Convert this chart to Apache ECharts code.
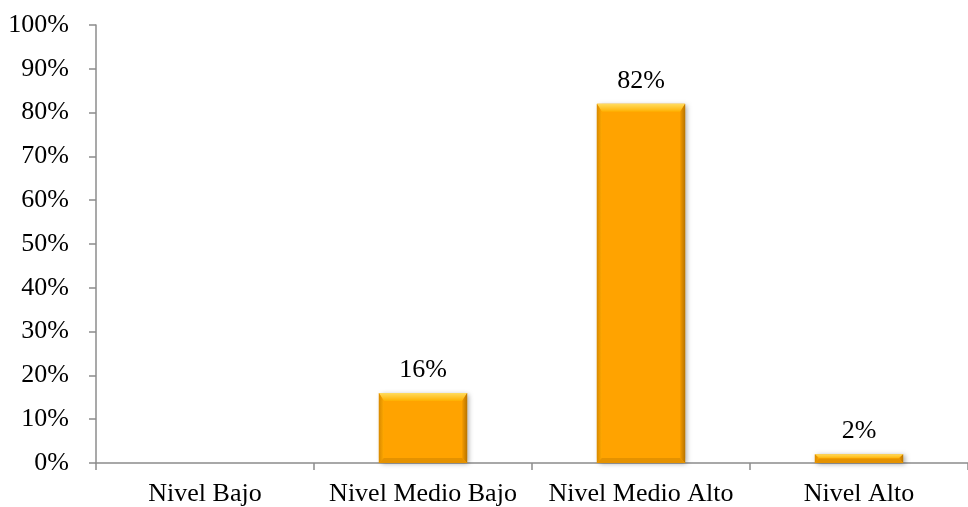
<!DOCTYPE html>
<html>
<head>
<meta charset="utf-8">
<script src="https://cdn.jsdelivr.net/npm/echarts@6/dist/echarts.min.js"></script>
<style>
  html, body { margin: 0; padding: 0; background: #fff; }
  #chart { width: 968px; height: 507px; }
</style>
</head>
<body>
<div id="chart"></div>
<script>
// Levels and the share of responses in each
var categories = ['Nivel Bajo', 'Nivel Medio Bajo', 'Nivel Medio Alto', 'Nivel Alto'];
var values = [0, 16, 82, 2];
var yTicks = [0, 10, 20, 30, 40, 50, 60, 70, 80, 90, 100];

var FONT = '"Liberation Serif", "Times New Roman", serif';
var FONT_SIZE = 26;

// Bevelled orange bar with its value label above
function renderBevelBar(params, api) {
  var idx = api.value(0);
  var val = api.value(1);
  if (!val) return null;
  var top = api.coord([idx, val]);
  var base = api.coord([idx, 0]);
  var w = api.size([1, 0])[0] * 0.405;
  var x0 = top[0] - w / 2, x1 = top[0] + w / 2;
  var y0 = top[1], y1 = base[1];
  var h = y1 - y0;
  var b = Math.min(8, h / 2);
  var s = Math.min(5, h / 2);
  return {
    type: 'group',
    children: [
      { type: 'rect', shape: { x: x0, y: y0, width: w, height: h },
        style: { fill: '#FFA300', shadowBlur: 5, shadowOffsetX: 2, shadowOffsetY: 1, shadowColor: 'rgba(0,0,0,0.35)' } },
      // top bevel
      { type: 'polygon', shape: { points: [[x0, y0], [x1, y0], [x1 - s, y0 + b], [x0 + s, y0 + b]] },
        style: { fill: new echarts.graphic.LinearGradient(0, 0, 0, 1, [
          { offset: 0, color: '#FFDC60' }, { offset: 1, color: '#FFB000' }]) } },
      // left bevel
      { type: 'polygon', shape: { points: [[x0, y0], [x0 + s, y0 + b], [x0 + s, y1 - s], [x0, y1]] },
        style: { fill: new echarts.graphic.LinearGradient(0, 0, 1, 0, [
          { offset: 0, color: '#D88A00' }, { offset: 1, color: '#FFA800' }]) } },
      // right bevel
      { type: 'polygon', shape: { points: [[x1, y0], [x1, y1], [x1 - s, y1 - s], [x1 - s, y0 + b]] },
        style: { fill: new echarts.graphic.LinearGradient(0, 0, 1, 0, [
          { offset: 0, color: '#F39A00' }, { offset: 1, color: '#B87400' }]) } },
      // bottom bevel
      { type: 'polygon', shape: { points: [[x0, y1], [x0 + s, y1 - s], [x1 - s, y1 - s], [x1, y1]] },
        style: { fill: '#E59200' } },
      { type: 'text', x: top[0], y: y0 - 10,
        style: { text: val + '%', fill: '#000', font: FONT_SIZE + 'px ' + FONT, align: 'center', verticalAlign: 'bottom' } }
    ]
  };
}

var chart = echarts.init(document.getElementById('chart'), null, { renderer: 'canvas' });
chart.setOption({
  animation: false,
  backgroundColor: '#fff',
  grid: { left: 96, right: 0, top: 25, bottom: 44, containLabel: false },
  xAxis: {
    type: 'category',
    data: categories,
    axisLine: { lineStyle: { color: '#8c8c8c', width: 1.5 } },
    axisTick: { show: true, interval: 0, length: 7, lineStyle: { color: '#8c8c8c', width: 1.5 } },
    axisLabel: { interval: 0, hideOverlap: false, color: '#000', fontFamily: FONT, fontSize: FONT_SIZE, margin: 18 }
  },
  yAxis: {
    type: 'value',
    min: yTicks[0],
    max: yTicks[yTicks.length - 1],
    interval: 10,
    splitLine: { show: false },
    axisLine: { show: true, lineStyle: { color: '#8c8c8c', width: 1.5 } },
    axisTick: { show: true, length: 7, lineStyle: { color: '#8c8c8c', width: 1.5 } },
    axisLabel: { color: '#000', fontFamily: FONT, fontSize: FONT_SIZE, margin: 27, formatter: '{value}%' }
  },
  series: [{
    type: 'custom',
    renderItem: renderBevelBar,
    encode: { x: 0, y: 1 },
    data: values.map(function (v, i) { return [i, v]; })
  }]
});
</script>
</body>
</html>
